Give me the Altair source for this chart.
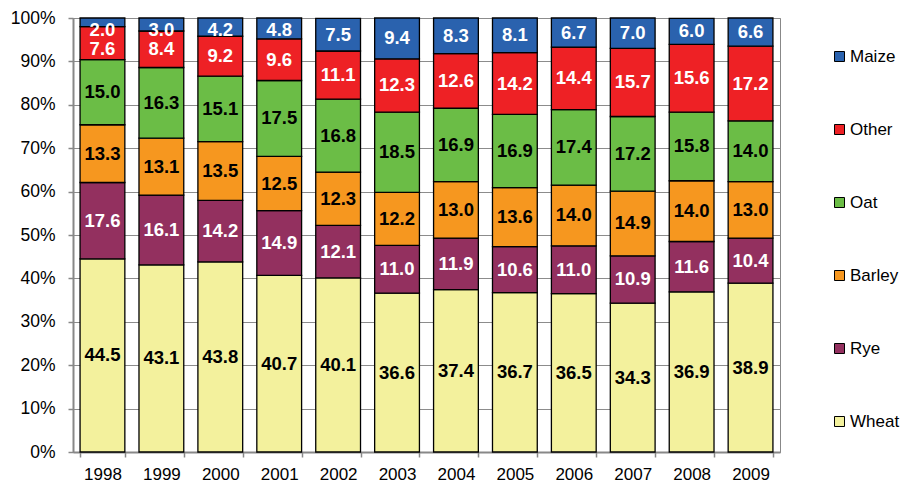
import altair as alt
import pandas as pd

FONT = "Liberation Sans"

years = [str(y) for y in range(1998, 2010)]
crops = ["Wheat", "Rye", "Barley", "Oat", "Other", "Maize"]

wheat = [44.5, 43.1, 43.8, 40.7, 40.1, 36.6, 37.4, 36.7, 36.5, 34.3, 36.9, 38.9]
rye = [17.6, 16.1, 14.2, 14.9, 12.1, 11.0, 11.9, 10.6, 11.0, 10.9, 11.6, 10.4]
barley = [13.3, 13.1, 13.5, 12.5, 12.3, 12.2, 13.0, 13.6, 14.0, 14.9, 14.0, 13.0]
oat = [15.0, 16.3, 15.1, 17.5, 16.8, 18.5, 16.9, 16.9, 17.4, 17.2, 15.8, 14.0]
other = [7.6, 8.4, 9.2, 9.6, 11.1, 12.3, 12.6, 14.2, 14.4, 15.7, 15.6, 17.2]
maize = [2.0, 3.0, 4.2, 4.8, 7.5, 9.4, 8.3, 8.1, 6.7, 7.0, 6.0, 6.6]

legend_order = ["Maize", "Other", "Oat", "Barley", "Rye", "Wheat"]
legend_colors = ["#2A62AE", "#EE2125", "#6BBD46", "#F6971F", "#93305F", "#F3F19D"]
white_text = ["Maize", "Other", "Rye"]

values = {"Wheat": wheat, "Rye": rye, "Barley": barley, "Oat": oat,
          "Other": other, "Maize": maize}

rows = []
for i, yr in enumerate(years):
    base = 0.0
    segs = []
    for c in crops:
        v = values[c][i]
        segs.append((c, v, base, base + v))
        base += v
    cap = 97.2
    for c, v, y0, y1 in reversed(segs):
        mid = (y0 + y1) / 2
        pos = min(mid, cap)
        cap = pos - 4.45
        rows.append(dict(year=yr, crop=c, value=v, y0=y0, y1=y1, pos=pos,
                         order=crops.index(c), label=f"{v:.1f}"))
df = pd.DataFrame(rows)

x_enc = alt.X("year:N", title=None, sort=years,
              scale=alt.Scale(paddingInner=0.24, paddingOuter=0.12),
              axis=alt.Axis(labelAngle=0, labelFont=FONT, labelFontSize=17,
                            labelColor="black", labelPadding=9,
                            domainColor="#888888", domainWidth=2,
                            tickColor="#888888", tickWidth=1.5, tickSize=5,
                            tickBand="extent", grid=False))

y_scale = alt.Scale(domain=[0, 100], nice=False, clamp=True)

bars = alt.Chart(df).mark_bar(stroke="black", strokeWidth=1.3).encode(
    x=x_enc,
    y=alt.Y("y0:Q", scale=y_scale, title=None,
            axis=alt.Axis(values=list(range(0, 101, 10)),
                          labelExpr="datum.value + '%'",
                          labelFont=FONT, labelFontSize=17.5, labelColor="black",
                          labelPadding=13, tickSize=5, tickColor="#888888",
                          tickWidth=1.5, domainColor="#888888", domainWidth=2,
                          gridColor="#8c8c8c", gridWidth=1)),
    y2="y1:Q",
    color=alt.Color("crop:N", scale=alt.Scale(domain=legend_order, range=legend_colors),
                    legend=alt.Legend(title=None, orient="none", legendX=758, legendY=30,
                                      symbolType="square", symbolSize=100,
                                      symbolStrokeColor="black", symbolStrokeWidth=1,
                                      labelFont=FONT, labelFontSize=17,
                                      labelColor="black", labelOffset=2,
                                      rowPadding=55, padding=0)),
    order=alt.Order("order:Q"),
)

labels = alt.Chart(df).mark_text(font=FONT, fontSize=18.5, fontWeight="bold",
                                 baseline="middle").encode(
    x=alt.X("year:N", sort=years),
    y=alt.Y("pos:Q", scale=y_scale),
    text="label:N",
    color=alt.condition(alt.FieldOneOfPredicate(field="crop", oneOf=white_text),
                        alt.value("white"), alt.value("black")),
)

chart = alt.layer(bars, labels).properties(
    width=707, height=434,
    padding={"left": 65, "top": 10, "right": 123, "bottom": 36},
    autosize=alt.AutoSizeParams(type="none"),
    title=alt.TitleParams("(share in total sowing area, in percent)",
                          font="Liberation Serif", fontSize=21, fontWeight="normal",
                          color="black", anchor="middle", dx=56, offset=8,
                          baseline="alphabetic"),
).configure_view(stroke="#888888", strokeWidth=1)

chart.save("out.html", embed_options={"renderer": "svg", "actions": False})
